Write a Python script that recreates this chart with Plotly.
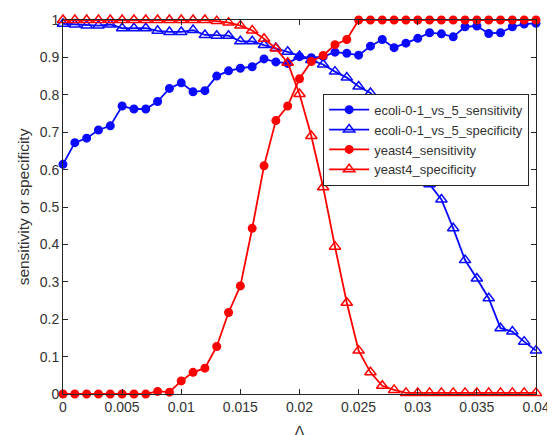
import plotly.graph_objects as go

delta = [round(i * 0.001, 3) for i in range(41)]

ecoli_sensitivity = [0.614, 0.672, 0.684, 0.706, 0.717, 0.770, 0.762, 0.762, 0.782, 0.817,
                     0.832, 0.808, 0.811, 0.850, 0.864, 0.871, 0.875, 0.896, 0.888, 0.884,
                     0.902, 0.899, 0.902, 0.914, 0.911, 0.906, 0.930, 0.948, 0.926, 0.938,
                     0.951, 0.966, 0.963, 0.955, 0.982, 0.984, 0.964, 0.966, 0.982, 0.989,
                     0.991]
ecoli_specificity = [0.990, 0.988, 0.985, 0.985, 0.988, 0.978, 0.978, 0.978, 0.971, 0.968,
                     0.968, 0.973, 0.960, 0.958, 0.958, 0.943, 0.943, 0.933, 0.925, 0.915,
                     0.904, 0.893, 0.881, 0.862, 0.846, 0.822, 0.805, 0.770, 0.730, 0.690,
                     0.630, 0.561, 0.520, 0.443, 0.358, 0.309, 0.256, 0.176, 0.167, 0.140,
                     0.116]
yeast4_sensitivity = [0, 0, 0, 0, 0, 0, 0, 0, 0.007, 0.005,
                      0.035, 0.058, 0.069, 0.127, 0.218, 0.289, 0.443, 0.610, 0.731, 0.770,
                      0.843, 0.889, 0.905, 0.934, 0.948, 1.0, 1.0, 1.0, 1.0, 1.0,
                      1.0, 1.0, 1.0, 1.0, 1.0, 1.0, 1.0, 1.0, 1.0, 1.0,
                      1.0]
yeast4_specificity = [1.0, 1.0, 1.0, 1.0, 1.0, 1.0, 1.0, 1.0, 1.0, 1.0,
                      1.0, 1.0, 1.0, 0.997, 0.993, 0.985, 0.972, 0.950, 0.924, 0.886,
                      0.802, 0.690, 0.553, 0.394, 0.244, 0.116, 0.058, 0.022, 0.011, 0.003,
                      0.003, 0.003, 0.003, 0.003, 0.003, 0.003, 0.003, 0.003, 0.003, 0.003,
                      0.003]

x_ticks = [0, 0.005, 0.01, 0.015, 0.02, 0.025, 0.03, 0.035, 0.04]
x_tick_labels = ["0", "0.005", "0.01", "0.015", "0.02", "0.025", "0.03", "0.035", "0.04"]
y_ticks = [0, 0.1, 0.2, 0.3, 0.4, 0.5, 0.6, 0.7, 0.8, 0.9, 1]
y_tick_labels = ["0", "0.1", "0.2", "0.3", "0.4", "0.5", "0.6", "0.7", "0.8", "0.9", "1"]

BLUE = "#0a0aff"
RED = "#ff0000"
AX = "#262626"
TXT = "#333333"

series = [
    ("ecoli-0-1_vs_5_sensitivity", ecoli_sensitivity, BLUE, "circle", 7.5),
    ("ecoli-0-1_vs_5_specificity", ecoli_specificity, BLUE, "triangle-up-open", 10),
    ("yeast4_sensitivity", yeast4_sensitivity, RED, "circle", 7.5),
    ("yeast4_specificity", yeast4_specificity, RED, "triangle-up-open", 10),
]

fig = go.Figure()
for name, vals, col, sym, sz in series:
    fig.add_trace(go.Scatter(
        x=delta, y=vals, name=name, mode="lines+markers",
        line=dict(color=col, width=1.8),
        marker=dict(symbol=sym, size=sz, color=col, line=dict(color=col, width=1.5)),
        cliponaxis=False,
    ))

fig.update_layout(
    width=555, height=435,
    margin=dict(l=55, r=27, t=12, b=49, autoexpand=False),
    paper_bgcolor="white", plot_bgcolor="white",
    font=dict(family="Liberation Sans, Arial, sans-serif", size=13, color=TXT),
    showlegend=True,
    legend=dict(
        x=0.55, y=0.803, xanchor="left", yanchor="top",
        bgcolor="white", bordercolor=AX, borderwidth=1,
        font=dict(size=13, color=TXT),
        itemwidth=40, tracegroupgap=0,
    ),
    xaxis=dict(
        range=[0, 0.04], tickvals=x_ticks, ticktext=x_tick_labels,
        showline=True, linecolor=AX, linewidth=1, mirror="ticks",
        ticks="inside", ticklen=5, tickcolor=AX, showgrid=False, zeroline=False,
        tickfont=dict(size=14, color=TXT),
        title=dict(text="Δ", font=dict(size=15, color=TXT), standoff=11),
        automargin=False,
    ),
    yaxis=dict(
        range=[0, 1], tickvals=y_ticks, ticktext=y_tick_labels,
        showline=True, linecolor=AX, linewidth=1, mirror="ticks",
        ticks="inside", ticklen=5, tickcolor=AX, showgrid=False, zeroline=False,
        tickfont=dict(size=14, color=TXT),
        title=dict(text="sensitivity or specificity", font=dict(size=15.5, color=TXT), standoff=6),
        automargin=False,
    ),
)

fig.write_html("out.html")
